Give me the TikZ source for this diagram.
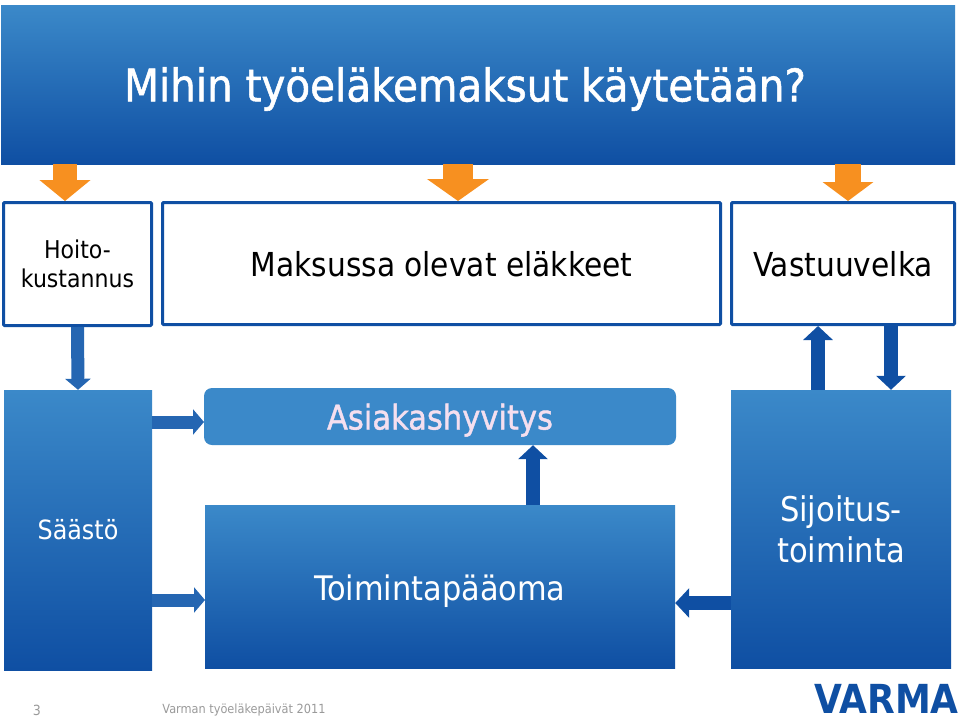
\documentclass[tikz,border=0pt]{standalone}
\usepackage{fontspec}
\setmainfont{DejaVu Sans Condensed}
\newfontfamily\heavyfont[FakeBold=1.2]{DejaVu Sans Condensed}
\usetikzlibrary{arrows.meta}
\definecolor{varmablue}{HTML}{0F4FA3}
\definecolor{lightblue}{HTML}{3B89C9}
\definecolor{midblue}{HTML}{2F74BA}
\definecolor{arrowblue}{HTML}{2566B2}
\definecolor{varmaorange}{HTML}{F79020}
\definecolor{pinkwhite}{HTML}{F5DFEF}
\definecolor{footgrey}{HTML}{9A9A9A}
\newcommand{\lowered}[2]{\raisebox{-#1pt}[0pt][0pt]{#2}}
\begin{document}
\begin{tikzpicture}[x=1pt,y=-1pt,
 whitebox/.style={draw=varmablue,line width=3pt,rounded corners=1pt,fill=white,align=center,inner sep=0pt,text=black},
 bluebox/.style={top color=lightblue,middle color=midblue,bottom color=varmablue,align=center,inner sep=0pt,text=white},
 orangearrow/.style={draw=varmaorange,line width=24pt,-{Triangle[length=21pt,width=50pt]}},
 darkarrow/.style={draw=varmablue,line width=14.5pt,-{Triangle[length=14pt,width=29pt]}},
 fadearrow/.style={draw=arrowblue,line width=13pt,-{Triangle[length=11pt,width=25pt]}}]
\useasboundingbox (0,0) rectangle (960,720);
\node[bluebox,minimum width=954pt,minimum height=159pt] (title) at (478,84.5) {};
\node[text=white,font=\heavyfont\fontsize{45}{54}\selectfont] (heading) at (465,89) {Mihin työeläkemaksut käytetään?};
\node[whitebox,minimum width=148pt,minimum height=123pt,font=\fontsize{24.5}{29}\selectfont] (hoito) at (77.5,264) {Hoito-\\kustannus};
\node[whitebox,minimum width=558pt,minimum height=122pt,font=\fontsize{33}{40}\selectfont] (maksussa) at (441.5,263.5) {\lowered{13}{Maksussa olevat eläkkeet}};
\node[whitebox,minimum width=223pt,minimum height=122pt,font=\fontsize{33}{40}\selectfont] (vastuu) at (843,263.5) {\lowered{13}{Vastuuvelka}};
\node[bluebox,minimum width=148pt,minimum height=280pt,font=\fontsize{26.5}{32}\selectfont] (saasto) at (78,530) {Säästö};
\node[fill=lightblue,rounded corners=8pt,minimum width=472pt,minimum height=57pt,inner sep=0pt,text=pinkwhite,font=\heavyfont\fontsize{34}{38}\selectfont] (asiakas) at (440,416.5) {\lowered{13}{Asiakashyvitys}};
\node[bluebox,minimum width=470pt,minimum height=163pt,font=\fontsize{33.8}{40}\selectfont] (toiminta) at (440,586.5) {\lowered{13.5}{Toimintapääoma}};
\node[bluebox,minimum width=220pt,minimum height=278pt,font=\fontsize{34}{41}\selectfont] (sijoitus) at (841,529) {Sijoitus-\\toiminta};
\node[text=footgrey,font=\fontsize{14}{17}\selectfont] (sivu) at (37,710) {3};
\node[text=footgrey,font=\fontsize{12.6}{17}\selectfont] (paivat) at (244,710) {Varman työeläkepäivät 2011};
\node[text=varmablue,inner sep=0pt,font=\fontsize{40}{46}\selectfont\bfseries] (logo) at (886.5,699) {VARMA};
% from the title down to the three upper boxes
\draw[orangearrow] (65,164) -- (hoito.north -| 65,0);
\draw[orangearrow,line width=30pt,-{Triangle[length=22pt,width=61pt]}] (458,164) -- (maksussa.north -| 458,0);
\draw[orangearrow,line width=26pt,-{Triangle[length=19pt,width=50pt]}] (848,164) -- (vastuu.north -| 848,0);
% left column
\draw[fadearrow] (hoito.south) -- (saasto.north);
\draw[fadearrow] (saasto.east |- asiakas.west) ++(0,5.5) -- (204,422);
\draw[fadearrow] (saasto.east |- toiminta.west) ++(0,13.5) -- (205,600);
% right column
\draw[darkarrow] (toiminta.north -| 533,0) -- (asiakas.south -| 533,0);
\draw[darkarrow] (sijoitus.north -| 818,0) -- (vastuu.south -| 818,0);
\draw[darkarrow] (vastuu.south -| 891,0) -- (sijoitus.north -| 891,0);
\draw[darkarrow] (sijoitus.west |- 0,603) -- (toiminta.east |- 0,603);
\end{tikzpicture}
\end{document}
